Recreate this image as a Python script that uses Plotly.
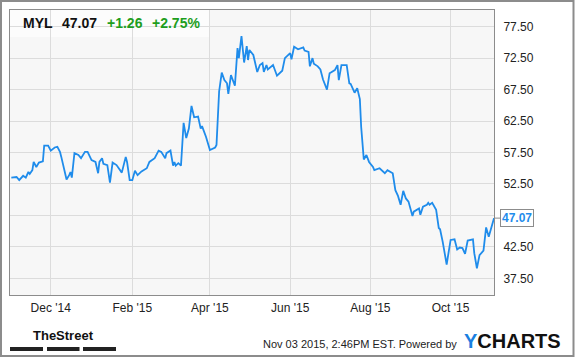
import plotly.graph_objects as go

dates = [
    "2014-11-01", "2014-11-05", "2014-11-07", "2014-11-10", "2014-11-12", "2014-11-14", "2014-11-15",
    "2014-11-17", "2014-11-18", "2014-11-20", "2014-11-22", "2014-11-25", "2014-11-26", "2014-11-29",
    "2014-12-01", "2014-12-04", "2014-12-06", "2014-12-08", "2014-12-09", "2014-12-11", "2014-12-13",
    "2014-12-15", "2014-12-16", "2014-12-17", "2014-12-19", "2014-12-22", "2014-12-24", "2014-12-27",
    "2014-12-29", "2015-01-01", "2015-01-04", "2015-01-06", "2015-01-07", "2015-01-09", "2015-01-10",
    "2015-01-13", "2015-01-15", "2015-01-17", "2015-01-20", "2015-01-24", "2015-01-27", "2015-01-28",
    "2015-01-30", "2015-02-01", "2015-02-03", "2015-02-05", "2015-02-08", "2015-02-12", "2015-02-14",
    "2015-02-18", "2015-02-21", "2015-02-23", "2015-02-26", "2015-02-27", "2015-03-02", "2015-03-04",
    "2015-03-05", "2015-03-06", "2015-03-08", "2015-03-10", "2015-03-12", "2015-03-14", "2015-03-16",
    "2015-03-18", "2015-03-20", "2015-03-23", "2015-03-25", "2015-03-26", "2015-03-29", "2015-04-01",
    "2015-04-05", "2015-04-06", "2015-04-08", "2015-04-10", "2015-04-12", "2015-04-14", "2015-04-15",
    "2015-04-17", "2015-04-20", "2015-04-22", "2015-04-23", "2015-04-25", "2015-04-27", "2015-04-29",
    "2015-04-30", "2015-05-01", "2015-05-04", "2015-05-07", "2015-05-09", "2015-05-11", "2015-05-12",
    "2015-05-14", "2015-05-15", "2015-05-19", "2015-05-22", "2015-05-26", "2015-05-28", "2015-06-01",
    "2015-06-02", "2015-06-04", "2015-06-07", "2015-06-11", "2015-06-12", "2015-06-15", "2015-06-16",
    "2015-06-18", "2015-06-19", "2015-06-22", "2015-06-24", "2015-06-26", "2015-06-29", "2015-07-01",
    "2015-07-05", "2015-07-07", "2015-07-08", "2015-07-10", "2015-07-14", "2015-07-16", "2015-07-17",
    "2015-07-20", "2015-07-22", "2015-07-24", "2015-07-25", "2015-07-27", "2015-07-29", "2015-07-31",
    "2015-08-03", "2015-08-04", "2015-08-08", "2015-08-12", "2015-08-14", "2015-08-18", "2015-08-20",
    "2015-08-22", "2015-08-24", "2015-08-26", "2015-08-28", "2015-08-30", "2015-09-01", "2015-09-02",
    "2015-09-03", "2015-09-06", "2015-09-07", "2015-09-08", "2015-09-10", "2015-09-13", "2015-09-14",
    "2015-09-15", "2015-09-17", "2015-09-20", "2015-09-22", "2015-09-23", "2015-09-25", "2015-09-28",
    "2015-10-01", "2015-10-04", "2015-10-06", "2015-10-08", "2015-10-10", "2015-10-12", "2015-10-14",
    "2015-10-18", "2015-10-19", "2015-10-21", "2015-10-23", "2015-10-26", "2015-10-27", "2015-10-28",
    "2015-10-30", "2015-11-01", "2015-11-03",
]

prices = [
    53.5, 53.6, 53.1, 53.8, 53.5, 54.4, 54.1,
    54.7, 56.0, 55.2, 55.9, 56.1, 58.6, 58.6,
    57.8, 58.3, 58.4, 57.6, 56.8, 54.7, 53.2,
    53.9, 54.4, 53.5, 57.4, 57.1, 56.6, 57.6,
    57.6, 56.3, 56.0, 54.2, 56.0, 56.6, 55.7,
    55.5, 52.7, 55.9, 55.5, 54.3, 56.8, 56.0,
    53.1, 53.1, 54.6, 53.9, 54.5, 55.0, 56.0,
    56.6, 57.8, 57.6, 56.6, 57.4, 57.8, 55.4,
    56.0, 55.4, 55.8, 55.4, 62.2, 59.8, 61.3,
    64.9, 63.1, 63.2, 61.3, 61.7, 60.0, 57.9,
    58.3, 58.7, 67.2, 70.2, 69.0, 68.5, 66.8,
    69.8, 68.1, 74.1, 72.5, 76.0, 71.8, 74.4,
    72.2, 73.8, 73.0, 70.3, 71.4, 71.7, 70.3,
    71.4, 70.7, 71.4, 69.7, 70.5, 72.5, 73.3,
    72.3, 74.3, 73.9, 74.2, 73.7, 73.5, 71.2,
    72.5, 71.6, 71.2, 70.7, 69.1, 67.5, 70.1,
    70.6, 71.4, 69.0, 71.4, 71.4, 68.5, 68.4,
    67.0, 67.7, 66.0, 61.6, 56.4, 57.1, 56.0,
    55.2, 54.7, 55.0, 54.2, 54.7, 54.2, 51.5,
    50.6, 49.2, 51.4, 50.2, 49.7, 48.4, 47.4,
    48.1, 48.4, 48.6, 47.6, 48.9, 49.2, 49.5,
    49.2, 49.5, 48.4, 45.5, 45.3, 43.3, 39.7,
    43.6, 43.7, 42.1, 42.4, 42.3, 41.4, 43.5,
    43.7, 41.5, 39.1, 41.2, 41.9, 44.1, 45.6,
    44.1, 45.7, 47.07,
]

x_tick_vals = ["2014-12-01", "2015-02-01", "2015-04-01", "2015-06-01", "2015-08-01", "2015-10-01"]
x_tick_text = ["Dec '14", "Feb '15", "Apr '15", "Jun '15", "Aug '15", "Oct '15"]
y_tick_vals = [37.5, 42.5, 47.5, 52.5, 57.5, 62.5, 67.5, 72.5, 77.5]
# the 47.50 label is covered by the last-price callout in the reference
y_tick_text = ["37.50", "42.50", "", "52.50", "57.50", "62.50", "67.50", "72.50", "77.50"]

ticker = "MYL"
last_price = "47.07"
change = "+1.26"
change_pct = "+2.75%"
timestamp = "Nov 03 2015, 2:46PM EST. Powered by"

W, H = 575, 358
L, R, T, B = 10, 81, 10, 63
PW, PH = W - L - R, H - T - B

FONT = "Liberation Sans, Arial, sans-serif"
LINE_COLOR = "#1f8ceb"


def px_x(p):
    return (p - L) / PW


def px_y(p):
    return (H - B - p) / PH


fig = go.Figure()
fig.add_trace(go.Scatter(
    x=dates, y=prices, mode="lines",
    line=dict(color=LINE_COLOR, width=1.8),
    hoverinfo="skip",
))

shapes = [
    dict(type="rect", xref="paper", yref="paper", x0=0, x1=px_x(210), y0=px_y(37), y1=1,
         fillcolor="rgba(255,255,255,0.6)", line=dict(width=0), layer="below"),
    dict(type="rect", xref="paper", yref="paper", x0=px_x(1), x1=px_x(573.5), y0=px_y(356), y1=px_y(1),
         fillcolor="rgba(0,0,0,0)", line=dict(color="#8c8c8c", width=2), layer="above"),
]
for a, b in [(10, 43), (47, 79.5), (83, 116)]:
    shapes.append(dict(type="rect", xref="paper", yref="paper", x0=px_x(a), x1=px_x(b),
                       y0=px_y(351), y1=px_y(347), fillcolor="#222222", line=dict(width=0)))

annotations = []


def head(text, left_px, color):
    annotations.append(dict(
        xref="paper", yref="paper", x=0, y=1, xanchor="left", yanchor="middle",
        xshift=left_px - L, yshift=-(23 - T), showarrow=False,
        text="<b>%s</b>" % text, font=dict(family=FONT, size=14, color=color)))


head(ticker, 21, "#111111")
head(last_price, 59.5, "#111111")
head(change, 104.5, "#1e9e1e")
head(change_pct, 149.5, "#1e9e1e")

annotations.append(dict(
    x=dates[-1], y=prices[-1], xref="x", yref="y",
    text="<b>%s</b>" % last_price, showarrow=True, arrowhead=0, arrowwidth=1,
    arrowcolor="#8c8c8c", ax=6, ay=0, xanchor="left", yanchor="middle",
    bgcolor="white", bordercolor="#8c8c8c", borderwidth=1, borderpad=1,
    font=dict(family=FONT, size=12, color=LINE_COLOR)))

annotations.append(dict(
    xref="paper", yref="paper", x=px_x(459), y=px_y(344), xanchor="right", yanchor="middle",
    showarrow=False, text=timestamp, font=dict(family=FONT, size=11, color="#222222")))
annotations.append(dict(
    xref="paper", yref="paper", x=px_x(462), y=px_y(341), xanchor="left", yanchor="middle",
    showarrow=False,
    text="<b><span style='color:#1a7fe0'>Y</span>CHARTS</b>",
    font=dict(family=FONT, size=20, color="#111111")))
annotations.append(dict(
    xref="paper", yref="paper", x=px_x(63), y=px_y(335.5), xanchor="center", yanchor="middle",
    showarrow=False, text="<b>TheStreet</b>",
    font=dict(family=FONT, size=13, color="#111111")))

fig.update_layout(
    width=W, height=H,
    margin=dict(l=L, r=R, t=T, b=B, pad=0),
    paper_bgcolor="white", plot_bgcolor="#f7f7f7",
    showlegend=False,
    shapes=shapes, annotations=annotations,
    xaxis=dict(
        type="date", range=["2014-10-31", "2015-11-03"],
        tickmode="array", tickvals=x_tick_vals, ticktext=x_tick_text,
        showgrid=True, gridcolor="#dcdcdc", gridwidth=1,
        showline=True, mirror=True, linecolor="#8c8c8c", linewidth=1,
        zeroline=False, ticks="", ticklabelstandoff=2,
        tickfont=dict(family=FONT, size=12, color="#222222"),
    ),
    yaxis=dict(
        side="right", range=[34.85, 80.15],
        tickmode="array", tickvals=y_tick_vals, ticktext=y_tick_text,
        showgrid=True, gridcolor="#dcdcdc", gridwidth=1,
        showline=True, mirror=True, linecolor="#8c8c8c", linewidth=1,
        zeroline=False, ticks="", ticklabelstandoff=6,
        tickfont=dict(family=FONT, size=12, color="#222222"),
    ),
)

fig.write_html("out.html")
